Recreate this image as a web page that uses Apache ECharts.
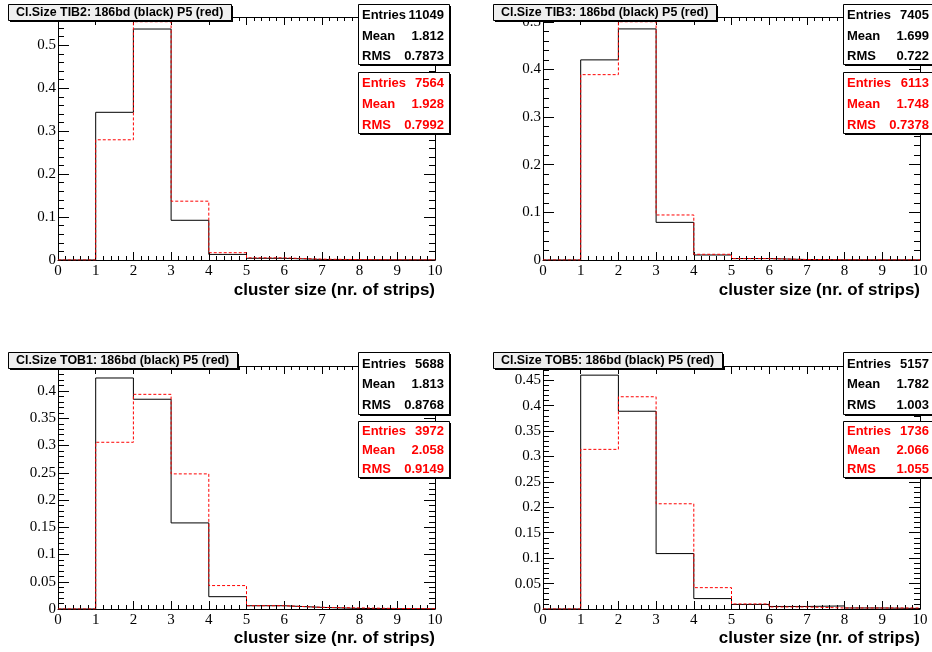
<!DOCTYPE html>
<html><head><meta charset="utf-8">
<script src="https://cdn.jsdelivr.net/npm/echarts@6/dist/echarts.min.js"></script>
<style>html,body{margin:0;padding:0;background:#fff}#c{width:932px;height:652px}</style>
</head><body><div id="c"></div>
<script>
// ---------- data ----------
const binEdges = [0, 1, 2, 3, 4, 5, 6, 7, 8, 9, 10];
const titles = [
  'Cl.Size TIB2: 186bd (black) P5 (red)',
  'Cl.Size TIB3: 186bd (black) P5 (red)',
  'Cl.Size TOB1: 186bd (black) P5 (red)',
  'Cl.Size TOB5: 186bd (black) P5 (red)'
];
const xAxisTitle = 'cluster size (nr. of strips)';
const tib2Black = [0, 0.344, 0.538, 0.0925, 0.013, 0.004, 0.0012, 0.0006, 0.0003, 0.0002];
const tib2Red   = [0, 0.280, 0.555, 0.137, 0.017, 0.005, 0.002, 0.001, 0.0005, 0.0003];
const tib3Black = [0, 0.420, 0.485, 0.079, 0.0105, 0.003, 0.001, 0.0005, 0.0003, 0.0002];
const tib3Red   = [0, 0.389, 0.500, 0.0945, 0.012, 0.003, 0.001, 0.0005, 0.0003, 0.0002];
const tob1Black = [0, 0.424, 0.385, 0.158, 0.0226, 0.006, 0.003, 0.001, 0.0005, 0.0003];
const tob1Red   = [0, 0.306, 0.394, 0.248, 0.043, 0.006, 0.003, 0.002, 0.001, 0.0005];
const tob5Black = [0, 0.460, 0.389, 0.109, 0.0205, 0.009, 0.005, 0.006, 0.002, 0.001];
const tob5Red   = [0, 0.314, 0.4175, 0.207, 0.042, 0.0099, 0.004, 0.002, 0.002, 0.002];
const statLabels = ['Entries', 'Mean', 'RMS'];
const tib2BlackStats = ['11049', '1.812', '0.7873'];
const tib2RedStats   = ['7564', '1.928', '0.7992'];
const tib3BlackStats = ['7405', '1.699', '0.722'];
const tib3RedStats   = ['6113', '1.748', '0.7378'];
const tob1BlackStats = ['5688', '1.813', '0.8768'];
const tob1RedStats   = ['3972', '2.058', '0.9149'];
const tob5BlackStats = ['5157', '1.782', '1.003'];
const tob5RedStats   = ['1736', '2.066', '1.055'];
const yMax   = [0.566, 0.51, 0.446, 0.478];
const yMajor = [0.1, 0.1, 0.05, 0.05];
const yMinor = [0.02, 0.02, 0.01, 0.01];

// ---------- layout ----------
const panels = [
  {black: tib2Black, red: tib2Red, bs: tib2BlackStats, rs: tib2RedStats, col: 0, row: 0},
  {black: tib3Black, red: tib3Red, bs: tib3BlackStats, rs: tib3RedStats, col: 1, row: 0},
  {black: tob1Black, red: tob1Red, bs: tob1BlackStats, rs: tob1RedStats, col: 0, row: 1},
  {black: tob5Black, red: tob5Red, bs: tob5BlackStats, rs: tob5RedStats, col: 1, row: 1}
];
const gridLeft = [58, 543];
const gridTop = [17, 366];
const GW = 377, GH = 243;
const dx = [0, 485];
const rowBoxes = [
  {by: 4, bh: 60, ry: 72, rh: 61, bl: [15, 36, 56], rl: [83, 104, 125], titleTop: 4, xt: 290},
  {by: 352, bh: 62, ry: 421, rh: 56, bl: [364, 384, 405], rl: [431, 450, 469], titleTop: 352, xt: 638}
];
const titleFont = 'bold 12.4px "Liberation Sans"';
const measureCtx = document.createElement('canvas').getContext('2d');
function textWidth(t, f) { measureCtx.font = f; return measureCtx.measureText(t).width; }

function steps(vals) {
  const pts = [];
  vals.forEach((v, i) => { pts.push([binEdges[i], v]); pts.push([binEdges[i + 1], v]); });
  return pts;
}

const labelFont = {fontFamily: 'Liberation Serif', fontSize: 15, color: '#000'};
const grid = [], xAxis = [], yAxis = [], series = [], graphic = [];

panels.forEach((p, g) => {
  const L = gridLeft[p.col], T = gridTop[p.row];
  grid.push({left: L, top: T, width: GW, height: GH, show: false, containLabel: false, outerBoundsMode: 'none'});
  ['bottom', 'top'].forEach(pos => {
    xAxis.push({
      gridIndex: g, type: 'value', min: 0, max: 10, interval: 1, position: pos,
      axisLine: {show: true, onZero: false, lineStyle: {color: '#000', width: 1}},
      axisTick: {show: true, inside: true, length: 8, lineStyle: {color: '#000', width: 1}},
      minorTick: {show: true, splitNumber: 5, length: 4, lineStyle: {color: '#000', width: 1}},
      axisLabel: pos === 'bottom' ? Object.assign({show: true, margin: 4}, labelFont) : {show: false},
      splitLine: {show: false}, minorSplitLine: {show: false}
    });
  });
  ['left', 'right'].forEach(pos => {
    yAxis.push({
      gridIndex: g, type: 'value', min: 0, max: yMax[g], interval: yMajor[g], position: pos,
      axisLine: {show: true, onZero: false, lineStyle: {color: '#000', width: 1}},
      axisTick: {show: true, inside: true, length: 11, lineStyle: {color: '#000', width: 1}},
      axisLabel: pos === 'left' ? Object.assign({show: true, margin: 2, showMaxLabel: false}, labelFont) : {show: false},
      splitLine: {show: false}
    });
    yAxis.push({
      gridIndex: g, type: 'value', min: 0, max: yMax[g], interval: yMinor[g], position: pos,
      axisLine: {show: false, onZero: false},
      axisTick: {show: true, inside: true, length: 6, lineStyle: {color: '#000', width: 1}},
      axisLabel: {show: false}, splitLine: {show: false}
    });
  });
  series.push({
    type: 'line', xAxisIndex: g * 2, yAxisIndex: g * 4, data: steps(p.black),
    showSymbol: false, symbol: 'none', silent: true, z: 3,
    lineStyle: {color: '#000', width: 1}
  });
  series.push({
    type: 'line', xAxisIndex: g * 2, yAxisIndex: g * 4, data: steps(p.red),
    showSymbol: false, symbol: 'none', silent: true, z: 4,
    lineStyle: {color: '#ff0000', width: 1, type: [3, 2]}
  });

  const rb = rowBoxes[p.row];
  // title box
  const tx = 8 + dx[p.col], ty = rb.titleTop;
  const tw = Math.round(textWidth(titles[g], titleFont)) + 16, th = 16;
  graphic.push({type: 'rect', z: 100, silent: true, shape: {x: tx + 2, y: ty + 2, width: tw, height: th}, style: {fill: '#000'}});
  graphic.push({type: 'rect', z: 101, silent: true, shape: {x: tx + 0.5, y: ty + 0.5, width: tw, height: th}, style: {fill: '#efefef', stroke: '#000', lineWidth: 1}});
  graphic.push({type: 'text', z: 102, silent: true, x: tx + 8, y: ty + 8.5,
    style: {text: titles[g], fill: '#000', font: titleFont, align: 'left', verticalAlign: 'middle'}});

  const bx = 358 + dx[p.col], bw = 91;
  function box(y, h, lines, vals, color) {
    graphic.push({type: 'rect', z: 100, silent: true, shape: {x: bx + 2, y: y + 2, width: bw, height: h}, style: {fill: '#000'}});
    graphic.push({type: 'rect', z: 101, silent: true, shape: {x: bx + 0.5, y: y + 0.5, width: bw, height: h}, style: {fill: '#fff', stroke: '#000', lineWidth: 1}});
    lines.forEach((ly, i) => {
      graphic.push({type: 'text', z: 102, silent: true, x: bx + 4, y: ly,
        style: {text: statLabels[i], fill: color, font: 'bold 13px "Liberation Sans"', align: 'left', verticalAlign: 'middle'}});
      graphic.push({type: 'text', z: 102, silent: true, x: bx + 86, y: ly,
        style: {text: vals[i], fill: color, font: 'bold 13px "Liberation Sans"', align: 'right', verticalAlign: 'middle'}});
    });
  }
  box(rb.by, rb.bh, rb.bl, p.bs, '#000');
  box(rb.ry, rb.rh, rb.rl, p.rs, '#ff0000');
  graphic.push({type: 'text', z: 102, silent: true, x: L + GW, y: rb.xt,
    style: {text: xAxisTitle, fill: '#000', font: 'bold 17px "Liberation Sans"', align: 'right', verticalAlign: 'middle'}});
});

const chart = echarts.init(document.getElementById('c'), null, {renderer: 'canvas'});
chart.setOption({animation: false, backgroundColor: '#fff', grid, xAxis, yAxis, series, graphic});
</script>
</body></html>
